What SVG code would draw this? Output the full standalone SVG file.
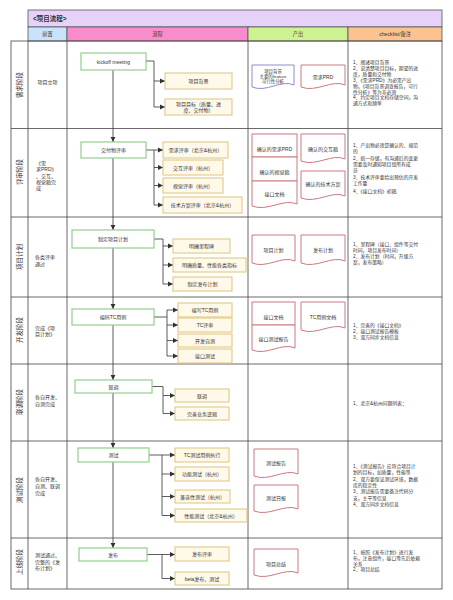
<svg xmlns="http://www.w3.org/2000/svg" width="453" height="600" viewBox="0 0 453 600">
<style>
text{font-family:"Liberation Sans","Noto Sans CJK SC",sans-serif;fill:#333;dominant-baseline:central}
.t{font-size:5px}
.k{font-size:4.8px}
.c{text-anchor:middle}
.ph{font-size:6.5px;text-anchor:middle}
.hd{font-size:5.2px;text-anchor:middle}
.grid{fill:none;stroke:#444;stroke-width:0.8}
.gb{fill:#fff;stroke:#8fd08c;stroke-width:1.2}
.sb{fill:#fff9e9;stroke:#dcc47f;stroke-width:1}
.doc{fill:#fff;stroke:#c97a80;stroke-width:1}
.docb{fill:#fff;stroke:#8e8cc8;stroke-width:1}
.cn{fill:none;stroke:#333;stroke-width:0.8}
</style>
<defs>
<marker id="ah" markerWidth="6" markerHeight="6" refX="5" refY="3" orient="auto" markerUnits="userSpaceOnUse"><path d="M0,0.6 L5,3 L0,5.4 Z" fill="#333"/></marker>
</defs>
<rect width="453" height="600" fill="#fff"/>
<g id="table">
<rect x="28" y="10" width="414" height="17" fill="#e6d2f9" stroke="#555" stroke-width="0.8"/>
<text x="33" y="18.5" style="font-size:6.5px;font-weight:bold">&lt;项目流程&gt;</text>
<rect x="28" y="27" width="39" height="14" fill="#c9e3fa" stroke="#555" stroke-width="0.8"/>
<rect x="67" y="27" width="181" height="14" fill="#f98ccb" stroke="#555" stroke-width="0.8"/>
<rect x="248" y="27" width="100" height="14" fill="#cdf291" stroke="#555" stroke-width="0.8"/>
<rect x="348" y="27" width="94" height="14" fill="#fcc290" stroke="#555" stroke-width="0.8"/>
<text class="hd" x="47.5" y="34">前置</text>
<text class="hd" x="157.5" y="34">流程</text>
<text class="hd" x="298" y="34">产出</text>
<text class="hd" x="395" y="34">checklist/备注</text>
<rect class="grid" x="11" y="41" width="431" height="548"/>
<path class="grid" d="M28,41V589M67,41V589M248,41V589M348,41V589M11,128.5H442M11,217H442M11,297H442M11,364H442M11,441H442M11,538H442"/>
</g>
<g id="phases">
<text class="ph" transform="translate(19.5,85) rotate(-90)">需求阶段</text>
<text class="ph" transform="translate(19.5,172) rotate(-90)">评审阶段</text>
<text class="ph" transform="translate(19.5,257) rotate(-90)">项目计划</text>
<text class="ph" transform="translate(19.5,330) rotate(-90)">开发阶段</text>
<text class="ph" transform="translate(19.5,402) rotate(-90)">联调阶段</text>
<text class="ph" transform="translate(19.5,490) rotate(-90)">测试阶段</text>
<text class="ph" transform="translate(19.5,562) rotate(-90)">上线阶段</text>
</g>
<g id="preconditions">
<text class="t c" x="47.5" y="82">项目立项</text>
<text class="t"><tspan x="36" y="163">《需</tspan><tspan x="36" y="169.3">求PRD》</tspan><tspan x="36" y="175.6">、交互、</tspan><tspan x="36" y="181.9">视觉稿完</tspan><tspan x="36" y="188.2">成</tspan></text>
<text class="t"><tspan x="35" y="257">各类评审</tspan><tspan x="35" y="263.5">通过</tspan></text>
<text class="t"><tspan x="35" y="327.5">完成《项</tspan><tspan x="35" y="334">目计划》</tspan></text>
<text class="t"><tspan x="35" y="397">各自开发、</tspan><tspan x="35" y="404">自测完成</tspan></text>
<text class="t"><tspan x="35" y="479">各自开发、</tspan><tspan x="35" y="486">自测、联调</tspan><tspan x="35" y="493">完成</tspan></text>
<text class="t"><tspan x="35" y="555">测试通过、</tspan><tspan x="35" y="561.5">完整的《发</tspan><tspan x="35" y="568">布计划》</tspan></text>
</g>
<g id="connectors">
<path class="cn" marker-end="url(#ah)" d="M113,70V142"/>
<path class="cn" marker-end="url(#ah)" d="M113,158V230"/>
<path class="cn" marker-end="url(#ah)" d="M113,248V309"/>
<path class="cn" marker-end="url(#ah)" d="M113,325V380"/>
<path class="cn" marker-end="url(#ah)" d="M113,393V448"/>
<path class="cn" marker-end="url(#ah)" d="M113,462V548"/>
<path class="cn" marker-end="url(#ah)" d="M146,61H154V81H165"/>
<path class="cn" marker-end="url(#ah)" d="M154,81V107H165"/>
<path class="cn" marker-end="url(#ah)" d="M146,150H163"/>
<path class="cn" marker-end="url(#ah)" d="M154,150V167.5H163"/>
<path class="cn" marker-end="url(#ah)" d="M154,167.5V185.5H163"/>
<path class="cn" marker-end="url(#ah)" d="M154,185.5V205H163"/>
<path class="cn" marker-end="url(#ah)" d="M154,239H163V246H173"/>
<path class="cn" marker-end="url(#ah)" d="M163,246V265H173"/>
<path class="cn" marker-end="url(#ah)" d="M163,265V284H173"/>
<path class="cn" marker-end="url(#ah)" d="M154,317H167V310H178"/>
<path class="cn" marker-end="url(#ah)" d="M167,317V325H178"/>
<path class="cn" marker-end="url(#ah)" d="M167,325V340.5H178"/>
<path class="cn" marker-end="url(#ah)" d="M167,340.5V356H178"/>
<path class="cn" marker-end="url(#ah)" d="M152,386.5H163V395.5H175"/>
<path class="cn" marker-end="url(#ah)" d="M163,395.5V413.5H175"/>
<path class="cn" marker-end="url(#ah)" d="M149,455H175"/>
<path class="cn" marker-end="url(#ah)" d="M162,455V474H175"/>
<path class="cn" marker-end="url(#ah)" d="M162,474V496.5H175"/>
<path class="cn" marker-end="url(#ah)" d="M162,496.5V515.5H175"/>
<path class="cn" marker-end="url(#ah)" d="M147,554.5H175"/>
<path class="cn" marker-end="url(#ah)" d="M162,554.5V578.5H175"/>
</g>
<g id="kickoff"><rect class="gb" x="81" y="53" width="65" height="17"/><text class="t c" x="113.5" y="61.5">kickoff meeting</text></g>
<g id="s-bg"><rect class="sb" x="165" y="73" width="67" height="16"/><text class="t c" x="198.5" y="81">项目背景</text></g>
<g id="s-goal"><rect class="sb" x="165" y="99" width="67" height="16"/><text class="t c"><tspan x="198.5" y="104.3">项目目标（质量、进</tspan><tspan x="198.5" y="110.3">度、交付物）</tspan></text></g>
<g id="review"><rect class="gb" x="81" y="142" width="65" height="16"/><text class="t c" x="113.5" y="150">交付物评审</text></g>
<g id="s-r1"><rect class="sb" x="163" y="142" width="65" height="16"/><text class="t c" x="195.5" y="150">需求评审（北京&amp;杭州）</text></g>
<g id="s-r2"><rect class="sb" x="163" y="160" width="60" height="15"/><text class="t c" x="193" y="167.5">交互评审（杭州）</text></g>
<g id="s-r3"><rect class="sb" x="163" y="178" width="60" height="15"/><text class="t c" x="193" y="185.5">视觉评审（杭州）</text></g>
<g id="s-r4"><rect class="sb" x="163" y="197" width="79" height="16"/><text class="t c" x="202.5" y="205">技术方案评审（北京&amp;杭州）</text></g>
<g id="plan"><rect class="gb" x="72" y="230" width="82" height="18"/><text class="t c" x="113" y="239">制定项目计划</text></g>
<g id="s-p1"><rect class="sb" x="173" y="239" width="57" height="14"/><text class="t c" x="201.5" y="246">明确里程碑</text></g>
<g id="s-p2"><rect class="sb" x="173" y="258" width="73" height="14"/><text class="t c" x="209.5" y="265">明确质量、性能各类指标</text></g>
<g id="s-p3"><rect class="sb" x="173" y="277" width="59" height="14"/><text class="t c" x="202.5" y="284">制定发布计划</text></g>
<g id="code"><rect class="gb" x="72" y="309" width="82" height="16"/><text class="t c" x="113" y="317">编码TC用例</text></g>
<g id="s-d1"><rect class="sb" x="178" y="303" width="54" height="14"/><text class="t c" x="205" y="310">编写TC用例</text></g>
<g id="s-d2"><rect class="sb" x="178" y="318" width="54" height="14"/><text class="t c" x="205" y="325">TC评审</text></g>
<g id="s-d3"><rect class="sb" x="178" y="334" width="54" height="13"/><text class="t c" x="205" y="340.5">开发自测</text></g>
<g id="s-d4"><rect class="sb" x="178" y="349" width="54" height="14"/><text class="t c" x="205" y="356">接口测试</text></g>
<g id="joint"><rect class="gb" x="75" y="380" width="77" height="13"/><text class="t c" x="113.5" y="386.5">联调</text></g>
<g id="s-j1"><rect class="sb" x="175" y="389" width="54" height="13"/><text class="t c" x="202" y="395.5">联调</text></g>
<g id="s-j2"><rect class="sb" x="175" y="407" width="54" height="13"/><text class="t c" x="202" y="413.5">完善业务逻辑</text></g>
<g id="test"><rect class="gb" x="78" y="448" width="71" height="14"/><text class="t c" x="113.5" y="455">测试</text></g>
<g id="s-t1"><rect class="sb" x="175" y="448" width="54" height="14"/><text class="t c" x="202" y="455">TC测试用例执行</text></g>
<g id="s-t2"><rect class="sb" x="175" y="467" width="54" height="14"/><text class="t c" x="202" y="474">功能测试（杭州）</text></g>
<g id="s-t3"><rect class="sb" x="175" y="490" width="55" height="13"/><text class="t c" x="202.5" y="496.5">兼容性测试（杭州）</text></g>
<g id="s-t4"><rect class="sb" x="175" y="509" width="72" height="13"/><text class="t c" x="211" y="515.5">性能测试（北京&amp;杭州）</text></g>
<g id="release"><rect class="gb" x="79" y="548" width="68" height="13"/><text class="t c" x="113" y="554.5">发布</text></g>
<g id="s-l1"><rect class="sb" x="175" y="547" width="54" height="14"/><text class="t c" x="202" y="554">发布评审</text></g>
<g id="s-l2"><rect class="sb" x="175" y="572" width="54" height="13"/><text class="t c" x="202" y="578.5">beta发布、测试</text></g>
<g id="o-bg"><path class="docb" d="M252,65H294V85C281.4,79 266.7,93 252,87Z"/><text class="c" style="font-size:4.4px"><tspan x="273" y="70.5">项目背景</tspan><tspan x="273" y="75.8">主要的feature</tspan><tspan x="273" y="81.1">可行性分析</tspan></text></g>
<g id="o-prd"><path class="doc" d="M301,65H345V85C331.8,79 316.4,93 301,87Z"/><text class="t c" x="323" y="76.5">需求PRD</text></g>
<g id="o-stack1"><rect class="doc" x="252" y="134" width="45" height="23"/><rect class="doc" x="252" y="157" width="45" height="24"/><path class="doc" d="M252,181H297V204C283.5,198 267.75,212 252,206Z"/><text class="t c" x="274.5" y="149">确认的需求PRD</text><text class="t c" x="274.5" y="171.5">确认的视觉稿</text><text class="t c" x="274.5" y="194">接口文档</text></g>
<g id="o-ux"><path class="doc" d="M301,134H345V159C331.8,153 316.4,167 301,161Z"/><text class="t c" x="323" y="149">确认的交互稿</text></g>
<g id="o-tech"><path class="doc" d="M301,171H345V196C331.8,190 316.4,204 301,198Z"/><text class="t c" x="323" y="184">确认的技术方案</text></g>
<g id="o-plan"><path class="doc" d="M252,235H295V261C282.1,255 267.05,269 252,263Z"/><text class="t c" x="273.5" y="250">项目计划</text></g>
<g id="o-rel"><path class="doc" d="M301,235H345V261C331.8,255 316.4,269 301,263Z"/><text class="t c" x="323" y="250">发布计划</text></g>
<g id="o-stack2"><rect class="doc" x="252" y="302" width="43" height="23"/><path class="doc" d="M252,325H295V348C282.1,342 267.05,356 252,350Z"/><text class="t c" x="273.5" y="316.5">接口文档</text><text class="t c" x="273.5" y="339">接口测试报告</text></g>
<g id="o-tc"><path class="doc" d="M301,302H345V328C331.8,322 316.4,336 301,330Z"/><text class="t c" x="323" y="316.5">TC用例文档</text></g>
<g id="o-report"><path class="doc" d="M254,449H298V474C284.8,468 269.4,482 254,476Z"/><text class="t c" x="276" y="463">测试报告</text></g>
<g id="o-daily"><path class="doc" d="M254,485H298V509C284.8,503 269.4,517 254,511Z"/><text class="t c" x="276" y="498">测试日报</text></g>
<g id="o-sum"><path class="doc" d="M254,549H298V573C284.8,567 269.4,581 254,575Z"/><text class="t c" x="276" y="564">项目总结</text></g>
<g id="checklist">
<text class="k"><tspan x="353" y="62">1、阐述项目背景</tspan><tspan x="353" y="67.9">2、说清楚项目目标，期望的进</tspan><tspan x="353" y="73.8">度，质量和交付物</tspan><tspan x="353" y="79.7">3、《需求PRD》为必需产出</tspan><tspan x="353" y="85.6">物，《项目背景调查报告，可行</tspan><tspan x="353" y="91.5">性分析》等为非必须</tspan><tspan x="353" y="97.4">4、约定项目文档存储空间，沟</tspan><tspan x="353" y="103.3">通方式和频率</tspan></text>
<text class="k"><tspan x="353" y="145">1、产出物必须是确认的、规范</tspan><tspan x="353" y="151.3">的</tspan><tspan x="353" y="157.6">2、统一存储，有沟通后的变更</tspan><tspan x="353" y="163.9">需要及时通知项目组所有成</tspan><tspan x="353" y="170.2">员</tspan><tspan x="353" y="176.5">3、技术评审要给出预估的开发</tspan><tspan x="353" y="182.8">工作量</tspan><tspan x="353" y="191">4、《接口文档》初稿</tspan></text>
<text class="k"><tspan x="353" y="244">1、里程碑（接口、组件等交付</tspan><tspan x="353" y="250">时间，项目发布时间）</tspan><tspan x="353" y="256">2、发布计划（时间，升级方</tspan><tspan x="353" y="262">案，发布策略）</tspan></text>
<text class="k"><tspan x="353" y="325">1、完善的《接口文档》</tspan><tspan x="353" y="331">2、接口测试报告模板</tspan><tspan x="353" y="337">3、双方同步文档信息</tspan></text>
<text class="k" x="353" y="403">1、北京&amp;杭州问题列表；</text>
<text class="k"><tspan x="353" y="466">1、《测试报告》应符合项目计</tspan><tspan x="353" y="472.3">划的目标，如质量，性能等</tspan><tspan x="353" y="478.6">2、双方要保证测试环境，数据</tspan><tspan x="353" y="484.9">库的稳定性</tspan><tspan x="353" y="491.2">3、测试报告需要备注代码分</tspan><tspan x="353" y="497.5">支，主干等信息</tspan><tspan x="353" y="503.8">4、双方同步文档信息</tspan></text>
<text class="k"><tspan x="353" y="552">1、按照《发布计划》进行发</tspan><tspan x="353" y="557.8">布，注意组件，接口等先后依赖</tspan><tspan x="353" y="563.6">关系</tspan><tspan x="353" y="569.4">2、项目总结</tspan></text>
</g>
</svg>
